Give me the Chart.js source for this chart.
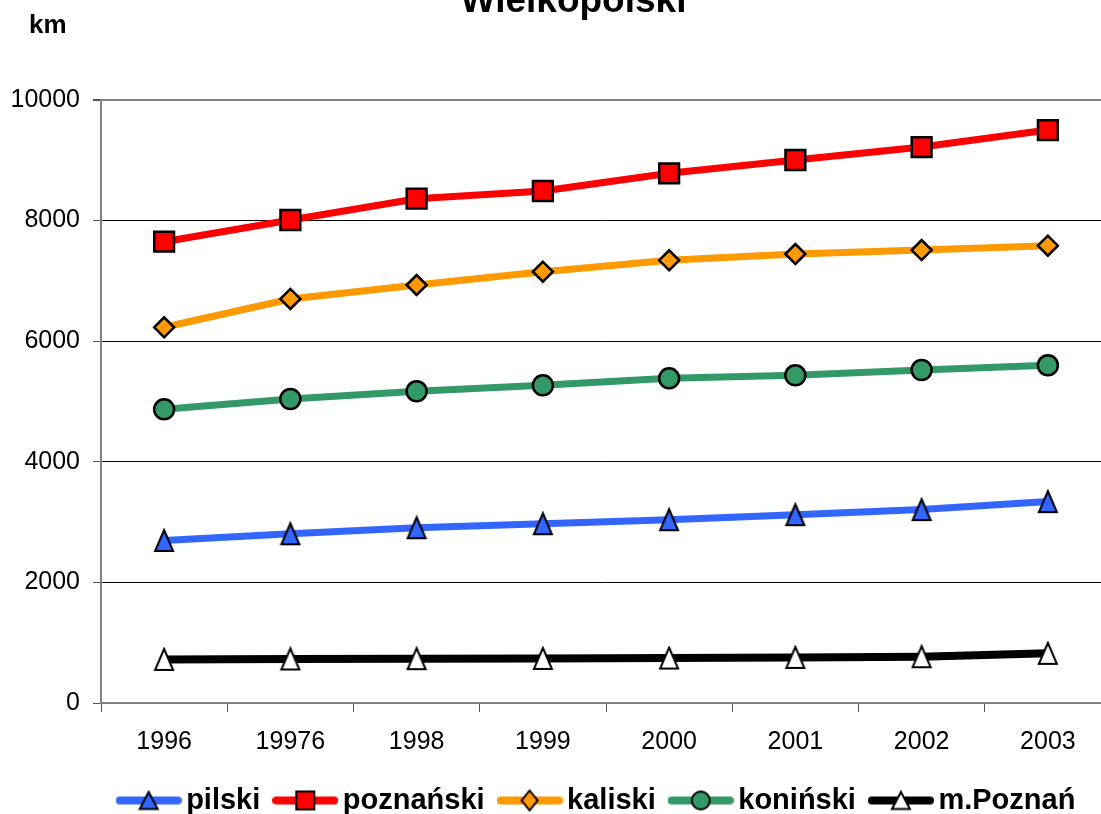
<!DOCTYPE html>
<html>
<head>
  <title>Wielkopolski - km</title>
  <script src="https://cdn.jsdelivr.net/npm/chart.js"></script>
  <style>
    body { margin: 0; overflow: hidden; background: #fff; }
    #wrap { position: absolute; left: 0; top: -30px; }
  </style>
</head>
<body>

  <div id="wrap">
    <canvas id="kmChart" width="1146" height="855"></canvas>
  </div>

  <script>
    const years = ['1996', '19976', '1998', '1999', '2000', '2001', '2002', '2003'];
    const pilski = [2695, 2806, 2907, 2973, 3040, 3123, 3207, 3340];
    const poznanski = [7650, 8010, 8363, 8491, 8784, 9005, 9220, 9502];
    const kaliski = [6231, 6700, 6932, 7153, 7341, 7446, 7512, 7584];
    const koninski = [4870, 5041, 5169, 5268, 5384, 5434, 5522, 5600];
    const mPoznan = [723, 730, 735, 740, 746, 756, 768, 823];
    const yTicks = [0, 2000, 4000, 6000, 8000, 10000];

    const FONT = '"Liberation Sans", Arial, sans-serif';

    function makeCanvas(w, h, draw) {
      const c = document.createElement('canvas');
      c.width = w;
      c.height = h;
      draw(c.getContext('2d'), w, h);
      return c;
    }

    function triangle(ctx, cx, cy, w, h, fill) {
      ctx.beginPath();
      ctx.moveTo(cx, cy - h / 2);
      ctx.lineTo(cx + w / 2, cy + h / 2);
      ctx.lineTo(cx - w / 2, cy + h / 2);
      ctx.closePath();
      ctx.fillStyle = fill;
      ctx.fill();
      ctx.lineWidth = 2;
      ctx.strokeStyle = '#000';
      ctx.stroke();
    }

    // tall triangle markers for the data points
    const triBlue = makeCanvas(22, 25, (ctx) => triangle(ctx, 11, 12.5, 18, 21, '#3366ff'));
    const triWhite = makeCanvas(22, 25, (ctx) => triangle(ctx, 11, 12.5, 18, 21, '#ffffff'));

    // legend icons: line with marker in the middle
    function legendIcon(color, marker) {
      return makeCanvas(66, 26, (ctx, w, h) => {
        ctx.strokeStyle = color;
        ctx.lineWidth = 8;
        ctx.lineCap = 'round';
        ctx.beginPath();
        ctx.moveTo(4, 13);
        ctx.lineTo(62, 13);
        ctx.stroke();
        ctx.lineWidth = 2;
        ctx.strokeStyle = '#000';
        ctx.lineCap = 'butt';
        if (marker === 'tri') {
          triangle(ctx, 33, 13, 18, 17, color === '#000000' ? '#ffffff' : color);
        } else if (marker === 'rect') {
          ctx.fillStyle = color;
          ctx.fillRect(24, 4, 18, 18);
          ctx.strokeRect(24, 4, 18, 18);
        } else if (marker === 'diamond') {
          ctx.beginPath();
          ctx.moveTo(33, 3); ctx.lineTo(41, 13); ctx.lineTo(33, 23); ctx.lineTo(25, 13);
          ctx.closePath();
          ctx.fillStyle = color;
          ctx.fill();
          ctx.stroke();
        } else {
          ctx.beginPath();
          ctx.arc(33, 13, 9, 0, Math.PI * 2);
          ctx.fillStyle = color;
          ctx.fill();
          ctx.stroke();
        }
      });
    }

    const icons = [
      legendIcon('#3366ff', 'tri'),
      legendIcon('#ff0000', 'rect'),
      legendIcon('#ff9900', 'diamond'),
      legendIcon('#339966', 'circle'),
      legendIcon('#000000', 'tri')
    ];

    // "km" unit label, and nudging title/legend so they sit where the original has them
    const extras = {
      id: 'extras',
      afterLayout(chart) {
        if (chart.titleBlock) chart.titleBlock.left = 36;
        if (chart.legend) {
          chart.legend.left += 45;
          chart.legend.right += 45;
        }
      },
      afterDraw(chart) {
        const ctx = chart.ctx;
        ctx.save();
        ctx.font = 'bold 26px ' + FONT;
        ctx.fillStyle = '#000';
        ctx.textBaseline = 'alphabetic';
        ctx.fillText('km', 29, 63);
        ctx.restore();
      }
    };

    const ctx = document.getElementById('kmChart').getContext('2d');
    new Chart(ctx, {
      type: 'line',
      data: {
        labels: years,
        datasets: [
          {
            label: 'pilski',
            data: pilski,
            borderColor: '#3366ff',
            borderWidth: 7,
            pointStyle: triBlue,
            pointRadius: 10
          },
          {
            label: 'poznański',
            data: poznanski,
            borderColor: '#ff0000',
            borderWidth: 7,
            pointStyle: 'rect',
            pointRadius: 14,
            pointBackgroundColor: '#ff0000',
            pointBorderColor: '#000',
            pointBorderWidth: 2.5
          },
          {
            label: 'kaliski',
            data: kaliski,
            borderColor: '#ff9900',
            borderWidth: 7,
            pointStyle: 'rectRot',
            pointRadius: 10,
            pointBackgroundColor: '#ff9900',
            pointBorderColor: '#000',
            pointBorderWidth: 2.5
          },
          {
            label: 'koniński',
            data: koninski,
            borderColor: '#339966',
            borderWidth: 7,
            pointStyle: 'circle',
            pointRadius: 10,
            pointBackgroundColor: '#339966',
            pointBorderColor: '#000',
            pointBorderWidth: 2.5
          },
          {
            label: 'm.Poznań',
            data: mPoznan,
            borderColor: '#000000',
            borderWidth: 8,
            pointStyle: triWhite,
            pointRadius: 10
          }
        ]
      },
      options: {
        responsive: false,
        animation: false,
        layout: { padding: { left: 0, right: 35, top: 0, bottom: 0 } },
        plugins: {
          title: {
            display: true,
            text: 'Wielkopolski',
            color: '#000',
            font: { family: FONT, size: 37, weight: 'bold' },
            padding: { top: 10, bottom: 75.6 }
          },
          legend: {
            position: 'bottom',
            labels: {
              usePointStyle: true,
              pointStyleWidth: 46,
              padding: 22,
              color: '#000',
              font: { family: FONT, size: 29, weight: 'bold' },
              generateLabels(chart) {
                const items = Chart.defaults.plugins.legend.labels.generateLabels(chart);
                items.forEach((it, i) => { it.pointStyle = icons[i]; });
                return items;
              }
            }
          },
          tooltip: { enabled: false }
        },
        scales: {
          x: {
            offset: true,
            grid: {
              offset: true,
              drawOnChartArea: false,
              tickLength: 9,
              tickColor: '#555'
            },
            border: { color: '#808080', width: 2 },
            ticks: {
              color: '#000',
              padding: 15,
              maxRotation: 0,
              font: { family: FONT, size: 25 }
            },
            afterFit(scale) { scale.height = 61; }
          },
          y: {
            min: 0,
            max: 10000,
            afterBuildTicks(scale) { scale.ticks = yTicks.map(v => ({ value: v })); },
            grid: {
              tickLength: 8,
              tickColor: '#555',
              color: (c) => (c.tick && c.tick.value === 10000 ? '#808080' : (c.tick && c.tick.value === 0 ? 'rgba(0,0,0,0)' : '#000')),
              lineWidth: (c) => (c.tick && c.tick.value === 10000 ? 2 : 1)
            },
            border: { color: '#808080', width: 2 },
            ticks: {
              color: '#000',
              padding: 13,
              font: { family: FONT, size: 25 },
              callback: (v) => String(v)
            },
            afterFit(scale) { scale.width = 101; }
          }
        }
      },
      plugins: [extras]
    });
  </script>

</body>
</html>
